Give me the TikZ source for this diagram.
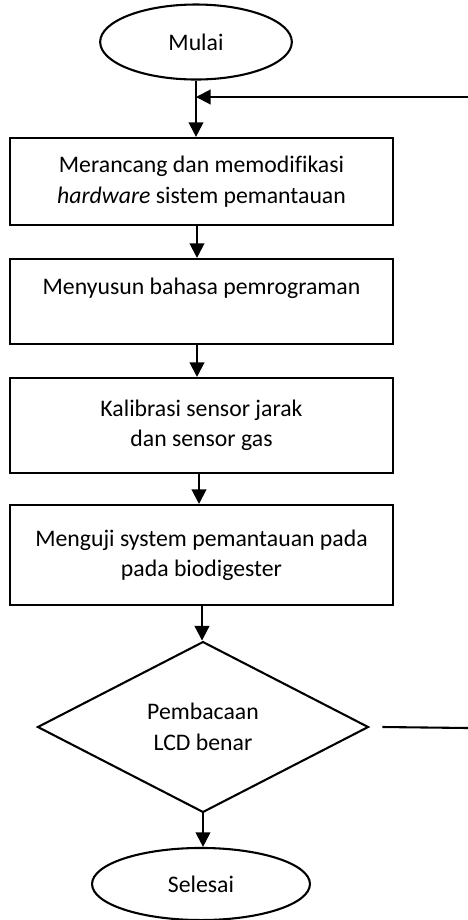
\documentclass[tikz,border=0pt]{standalone}
\usepackage{fontspec}
\setmainfont{Carlito}[Ligatures=CommonOff]
\usetikzlibrary{shapes.geometric,arrows.meta}

\begin{document}
\begin{tikzpicture}[x=0.48pt,y=-0.48pt,line width=1pt,font=\fontsize{11.4pt}{14.6pt}\selectfont,
  startstop/.style={draw,ellipse,inner sep=0pt},
  stepbox/.style={draw,rectangle,minimum width=183.8pt,align=center,inner sep=0pt},
  decide/.style={draw,diamond,minimum width=158.9pt,minimum height=82pt,inner sep=0pt,align=center},
  arr/.style={-{Triangle[length=7pt,width=7pt]}}]
\useasboundingbox (0,0) rectangle (468,920);
\node[startstop,minimum width=92pt,minimum height=36pt] (mulai) at (196,42) {Mulai};
\node[stepbox,minimum height=41.8pt] (box1) at (201.5,181.5) {Merancang dan memodifikasi\\\textit{hardware} sistem pemantauan};
\node[stepbox,minimum height=40.8pt] (box2) at (201.5,301.5) {Menyusun bahasa pemrograman\\~};
\node[stepbox,minimum height=45.6pt] (box3) at (201.5,425.5) {Kalibrasi sensor jarak\\dan sensor gas};
\node[stepbox,minimum height=48pt] (box4) at (201.5,555) {Menguji system pemantauan pada\\pada biodigester};
\node[decide] (dec) at (203,727) {Pembacaan\\LCD benar};
\node[startstop,minimum width=104.6pt,minimum height=34.6pt] (selesai) at (201,884) {Selesai};
\coordinate (join) at (196,97);
\coordinate (rtop) at (468,97);
\coordinate (rbot) at (468,728);
\draw[arr] (mulai.south) -- (mulai.south |- box1.north);
\foreach \a/\b/\xx in {box1/box2/197,box2/box3/197,box3/box4/199,box4/dec/202}{
\draw[arr] (\a.south -| \xx,0) -- (\b.north -| \xx,0);}
\draw[arr] (dec.south) -- (dec.south |- selesai.north);
\draw[arr] (rtop) -- (join);
\draw ([xshift=6.2pt]dec.east) -- (rbot);
\end{tikzpicture}
\end{document}
